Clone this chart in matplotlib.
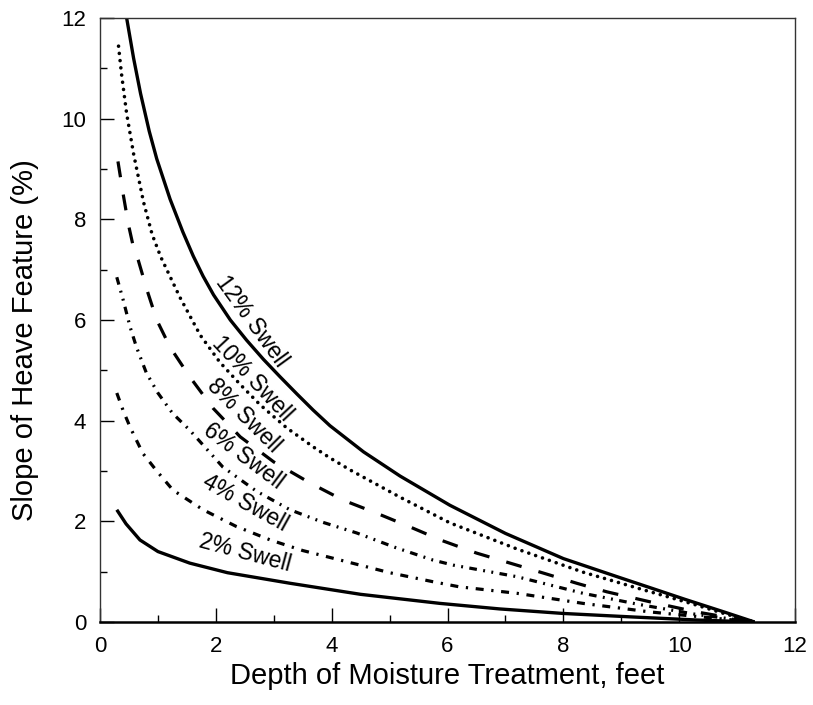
import matplotlib.pyplot as plt
import numpy as np

plt.rcParams['font.family'] = ['Liberation Sans', 'DejaVu Sans']

# Curves (depth in feet, slope in %)
x12 = [0.46, 0.58, 0.70, 0.85, 0.98, 1.21, 1.43, 1.61, 1.78, 1.96, 2.25, 2.53, 2.82, 3.11,
       3.40, 3.68, 3.97, 4.55, 5.18, 6.04, 7.00, 8.00, 8.98, 9.45, 10.10, 10.80, 11.30]
y12 = [12.0, 11.2, 10.5, 9.75, 9.2, 8.4, 7.75, 7.27, 6.87, 6.5, 6.0, 5.6, 5.22, 4.87,
       4.53, 4.21, 3.9, 3.38, 2.9, 2.32, 1.76, 1.26, 0.88, 0.70, 0.45, 0.19, 0.0]

x10 = [0.32, 0.37, 0.46, 0.58, 0.75, 0.90, 1.05, 1.38, 1.73, 2.07, 2.42, 2.76, 3.22, 3.68,
       3.97, 4.32, 5.18, 6.04, 7.20, 8.34, 9.38, 10.20, 10.80, 11.30]
y10 = [11.44, 10.9, 10.1, 9.3, 8.35, 7.7, 7.25, 6.45, 5.7, 5.16, 4.72, 4.32, 3.86, 3.48,
       3.26, 3.02, 2.48, 1.97, 1.45, 0.99, 0.64, 0.37, 0.16, 0.0]

x8 = [0.31, 0.40, 0.49, 0.58, 0.66, 0.81, 0.98, 1.21, 1.55, 1.95, 2.42, 3.00, 3.63, 4.20,
      4.78, 5.35, 5.90, 6.50, 7.08, 7.66, 8.23, 8.75, 9.50, 10.30, 11.30]
y8 = [9.15, 8.5, 7.9, 7.43, 7.19, 6.6, 6.0, 5.46, 4.87, 4.25, 3.68, 3.18, 2.76, 2.42,
      2.16, 1.89, 1.62, 1.37, 1.17, 0.97, 0.77, 0.6, 0.4, 0.2, 0.0]

x6 = [0.29, 0.40, 0.52, 0.63, 0.80, 1.00, 1.25, 1.55, 2.12, 2.70, 3.28, 3.85, 4.43, 5.10,
      5.75, 6.10, 7.20, 8.34, 9.30, 10.30, 11.30]
y6 = [6.85, 6.4, 5.86, 5.46, 4.95, 4.55, 4.15, 3.81, 3.08, 2.6, 2.23, 1.98, 1.77, 1.48,
      1.23, 1.13, 0.9, 0.57, 0.35, 0.15, 0.0]

x4 = [0.29, 0.40, 0.52, 0.74, 0.98, 1.26, 1.78, 2.35, 2.94, 3.50, 4.15, 5.00, 5.75, 6.20,
      7.20, 8.34, 9.50, 10.40, 11.30]
y4 = [4.55, 4.2, 3.87, 3.35, 3.0, 2.62, 2.23, 1.9, 1.63, 1.42, 1.23, 0.98, 0.8, 0.7,
      0.57, 0.37, 0.2, 0.1, 0.0]

x2 = [0.29, 0.45, 0.69, 1.00, 1.55, 2.20, 3.28, 4.50, 5.87, 6.90, 8.00, 9.20, 10.30, 11.30]
y2 = [2.23, 1.95, 1.63, 1.4, 1.17, 0.98, 0.77, 0.55, 0.37, 0.26, 0.17, 0.1, 0.04, 0.0]

labels = ['12% Swell', '10% Swell', '8% Swell', '6% Swell', '4% Swell', '2% Swell']
label_x = [2.62, 2.62, 2.48, 2.48, 2.50, 2.50]
label_y = [5.97, 4.84, 4.10, 3.29, 2.36, 1.37]
label_rot = [-54, -47, -45, -37, -29, -15]

fig = plt.figure(figsize=(8.13, 7.05), dpi=100)
ax = fig.add_axes([0.123, 0.1177, 0.855, 0.8568])

ax.plot(x12, y12, color='black', lw=2.4, solid_capstyle='butt')
ax.plot(x10, y10, color='black', lw=2.6, linestyle=(0, (0.01, 2.0)), dash_capstyle='round')
ax.plot(x8, y8, color='black', lw=2.3, linestyle=(0, (5.0, 5.5)))
ax.plot(x6, y6, color='black', lw=2.3, linestyle=(0, (2.4, 2.0, 0.6, 2.0, 0.6, 2.0)))
ax.plot(x4, y4, color='black', lw=2.3, linestyle=(0, (2.5, 2.4, 0.7, 2.4)))
ax.plot(x2, y2, color='black', lw=2.4, solid_capstyle='butt')

for txt, tx, ty, rot in zip(labels, label_x, label_y, label_rot):
    ax.text(tx, ty, txt, rotation=rot, rotation_mode='anchor', ha='center', va='center',
            fontsize=16.5, color='black')

ax.set_xlim(0, 12)
ax.set_ylim(0, 12)
ax.set_xticks(np.arange(0, 13, 2))
ax.set_yticks(np.arange(0, 13, 2))
ax.set_xticks(np.arange(0, 13, 1), minor=True)
ax.set_yticks(np.arange(0, 13, 1), minor=True)
ax.tick_params(which='major', direction='in', length=10, width=1.0, labelsize=16, pad=10,
               top=False, right=False)
ax.tick_params(which='minor', direction='in', length=5, width=1.0, top=False, right=False)

for side in ['top', 'right', 'left']:
    ax.spines[side].set_linewidth(1.0)
    ax.spines[side].set_color('#333333')
ax.spines['bottom'].set_linewidth(1.8)

ax.set_xlabel('Depth of Moisture Treatment, feet', fontsize=21, labelpad=4)
ax.set_ylabel('Slope of Heave Feature (%)', fontsize=21)
ax.yaxis.set_label_coords(-0.088, 0.467)

fig.savefig('out.png', dpi=100)
